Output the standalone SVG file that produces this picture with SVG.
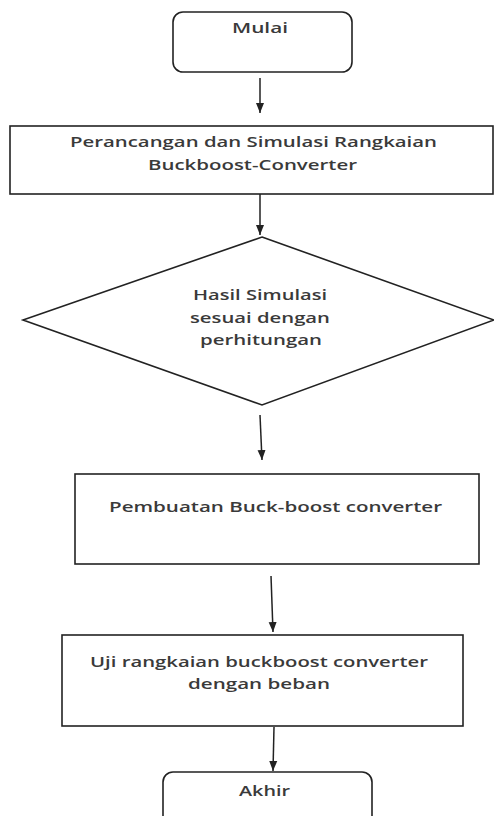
<svg xmlns="http://www.w3.org/2000/svg" width="494" height="816" viewBox="0 0 494 816">
<style>
.s{fill:#fff;stroke:#222;stroke-width:1.6}
.t{font-family:"Open Sans","Liberation Sans",sans-serif;font-size:14px;font-weight:600;fill:#3a3a3a}
.c{stroke:#222;stroke-width:1.5;fill:none}
</style>
<defs>
<marker id="ah" markerUnits="userSpaceOnUse" markerWidth="10" markerHeight="10" viewBox="0 0 10 10" refX="10" refY="5" orient="auto">
<path d="M0,1 L10,5 L0,9 Z" fill="#222"/>
</marker>
</defs>
<rect width="494" height="816" fill="#fff"/>
<g id="mulai">
<rect class="s" x="173" y="12" width="179" height="60" rx="10"/>
<text class="t" x="232" y="33" textLength="56" lengthAdjust="spacingAndGlyphs">Mulai</text>
</g>
<g id="perancangan">
<rect class="s" x="10" y="126" width="483" height="68"/>
<text class="t" x="70" y="147" textLength="367" lengthAdjust="spacingAndGlyphs">Perancangan dan Simulasi Rangkaian</text>
<text class="t" x="148" y="170" textLength="209" lengthAdjust="spacingAndGlyphs">Buckboost-Converter</text>
</g>
<g id="keputusan">
<polygon class="s" points="262,237 494,320 262,405 23,320"/>
<text class="t" x="193" y="300" textLength="134" lengthAdjust="spacingAndGlyphs">Hasil Simulasi</text>
<text class="t" x="190" y="323" textLength="140" lengthAdjust="spacingAndGlyphs">sesuai dengan</text>
<text class="t" x="200" y="345" textLength="122" lengthAdjust="spacingAndGlyphs">perhitungan</text>
</g>
<g id="pembuatan">
<rect class="s" x="75" y="474" width="404" height="90"/>
<text class="t" x="109" y="512" textLength="333" lengthAdjust="spacingAndGlyphs">Pembuatan Buck-boost converter</text>
</g>
<g id="uji">
<rect class="s" x="62" y="635" width="401" height="91"/>
<text class="t" x="90" y="667" textLength="338" lengthAdjust="spacingAndGlyphs">Uji rangkaian buckboost converter</text>
<text class="t" x="188" y="689" textLength="142" lengthAdjust="spacingAndGlyphs">dengan beban</text>
</g>
<g id="akhir">
<rect class="s" x="163" y="772" width="209" height="60" rx="10"/>
<text class="t" x="239" y="796" textLength="51" lengthAdjust="spacingAndGlyphs">Akhir</text>
</g>
<g id="connectors">
<path class="c" d="M260,78 L260,113" marker-end="url(#ah)"/>
<path class="c" d="M260,194 L260,235" marker-end="url(#ah)"/>
<path class="c" d="M260,415 L262,460" marker-end="url(#ah)"/>
<path class="c" d="M271,576 L273,632" marker-end="url(#ah)"/>
<path class="c" d="M274,727 L273,771" marker-end="url(#ah)"/>
</g>
</svg>
